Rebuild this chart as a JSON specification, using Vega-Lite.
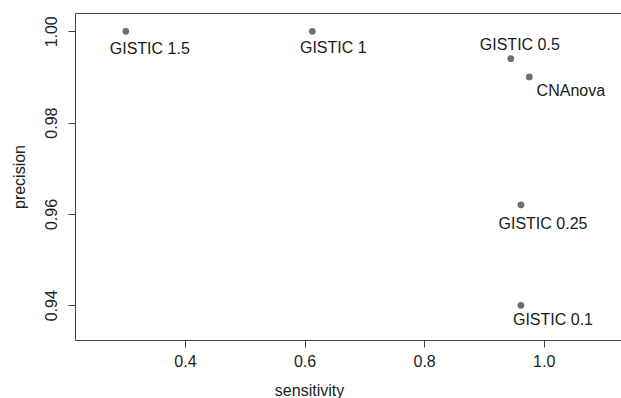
{
  "$schema": "https://vega.github.io/schema/vega-lite/v6.json",
  "width": 546,
  "height": 327,
  "autosize": "none",
  "padding": {"left": 75, "top": 13, "right": 0, "bottom": 58},
  "background": "white",
  "config": {
    "view": {"stroke": null},
    "font": "Liberation Sans",
    "axis": {
      "grid": false,
      "domainColor": "#444",
      "domainWidth": 1,
      "tickColor": "#444",
      "tickSize": 7,
      "labelFont": "Liberation Sans",
      "labelFontSize": 16,
      "labelColor": "#222",
      "titleFont": "Liberation Sans",
      "titleFontSize": 16,
      "titleFontWeight": "normal",
      "titleColor": "#222"
    }
  },
  "data": {
    "values": [
      {"label": "GISTIC 1.5", "sensitivity": 0.301, "precision": 1.000},
      {"label": "GISTIC 1", "sensitivity": 0.613, "precision": 1.000},
      {"label": "GISTIC 0.5", "sensitivity": 0.945, "precision": 0.994},
      {"label": "CNAnova", "sensitivity": 0.976, "precision": 0.990},
      {"label": "GISTIC 0.25", "sensitivity": 0.962, "precision": 0.962},
      {"label": "GISTIC 0.1", "sensitivity": 0.962, "precision": 0.940}
    ]
  },
  "resolve": {"axis": {"x": "independent", "y": "independent"}},
  "layer": [
    {
      "mark": {"type": "circle", "size": 45, "color": "#6e6e6e", "opacity": 1},
      "encoding": {
        "x": {
          "field": "sensitivity", "type": "quantitative",
          "scale": {"domain": [0.21605, 1.1293], "nice": false, "zero": false},
          "axis": {
            "orient": "bottom", "values": [0.4, 0.6, 0.8, 1.0], "format": ".1f",
            "labelPadding": 6, "labelBaseline": "top",
            "title": "sensitivity", "titleX": 234, "titleY": 50.7, "titleBaseline": "middle", "titleAnchor": null
          }
        },
        "y": {
          "field": "precision", "type": "quantitative",
          "scale": {"domain": [0.9324, 1.00401], "nice": false, "zero": false},
          "axis": {
            "orient": "left", "values": [0.94, 0.96, 0.98, 1.0], "format": ".2f",
            "labelAngle": -90, "labelAlign": "center", "labelBaseline": "bottom", "labelPadding": 9,
            "title": "precision", "titleAngle": -90, "titleX": -56, "titleY": 163.5,
            "titleAlign": "center", "titleBaseline": "middle", "titleAnchor": null
          }
        }
      }
    },
    {
      "transform": [{"filter": "datum.label === 'GISTIC 1.5'"}],
      "mark": {"type": "text", "fontSize": 16, "color": "#1a1a1a", "dx": 24, "dy": 18, "baseline": "middle", "align": "center"},
      "encoding": {
        "x": {"field": "sensitivity", "type": "quantitative",
          "axis": {"orient": "top", "labels": false, "ticks": false, "title": null}},
        "y": {"field": "precision", "type": "quantitative", "axis": null},
        "text": {"field": "label"}
      }
    },
    {
      "transform": [{"filter": "datum.label === 'GISTIC 1'"}],
      "mark": {"type": "text", "fontSize": 16, "color": "#1a1a1a", "dx": 21, "dy": 17, "baseline": "middle", "align": "center"},
      "encoding": {
        "x": {"field": "sensitivity", "type": "quantitative", "axis": null},
        "y": {"field": "precision", "type": "quantitative", "axis": null},
        "text": {"field": "label"}
      }
    },
    {
      "transform": [{"filter": "datum.label === 'GISTIC 0.5'"}],
      "mark": {"type": "text", "fontSize": 16, "color": "#1a1a1a", "dx": 9, "dy": -13.5, "baseline": "middle", "align": "center"},
      "encoding": {
        "x": {"field": "sensitivity", "type": "quantitative", "axis": null},
        "y": {"field": "precision", "type": "quantitative", "axis": null},
        "text": {"field": "label"}
      }
    },
    {
      "transform": [{"filter": "datum.label === 'CNAnova'"}],
      "mark": {"type": "text", "fontSize": 16, "color": "#1a1a1a", "dx": 41.5, "dy": 14, "baseline": "middle", "align": "center"},
      "encoding": {
        "x": {"field": "sensitivity", "type": "quantitative", "axis": null},
        "y": {"field": "precision", "type": "quantitative", "axis": null},
        "text": {"field": "label"}
      }
    },
    {
      "transform": [{"filter": "datum.label === 'GISTIC 0.25'"}],
      "mark": {"type": "text", "fontSize": 16, "color": "#1a1a1a", "dx": 22, "dy": 19, "baseline": "middle", "align": "center"},
      "encoding": {
        "x": {"field": "sensitivity", "type": "quantitative", "axis": null},
        "y": {"field": "precision", "type": "quantitative", "axis": null},
        "text": {"field": "label"}
      }
    },
    {
      "transform": [{"filter": "datum.label === 'GISTIC 0.1'"}],
      "mark": {"type": "text", "fontSize": 16, "color": "#1a1a1a", "dx": 32, "dy": 15, "baseline": "middle", "align": "center"},
      "encoding": {
        "x": {"field": "sensitivity", "type": "quantitative", "axis": null},
        "y": {"field": "precision", "type": "quantitative", "axis": null},
        "text": {"field": "label"}
      }
    }
  ]
}
